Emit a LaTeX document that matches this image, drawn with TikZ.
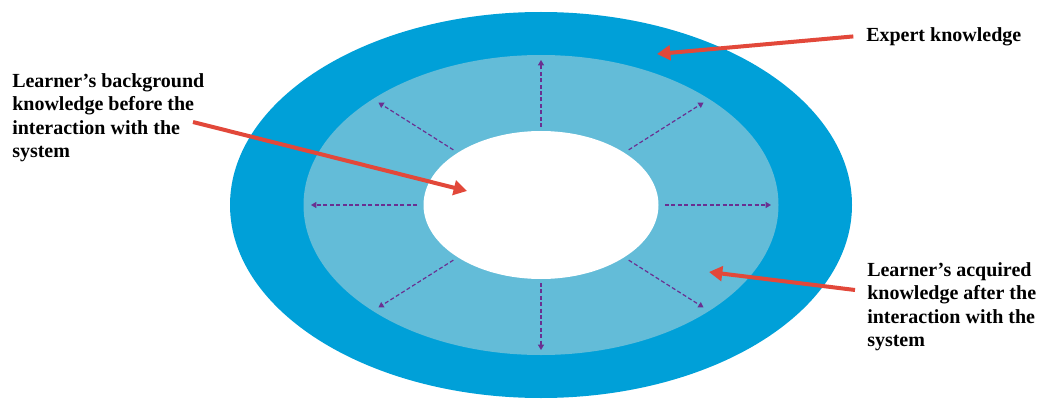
\documentclass[tikz,border=0pt]{standalone}
\usepackage{fontspec}
\setmainfont{Liberation Serif}
\usetikzlibrary{arrows.meta}

\definecolor{ringblue}{RGB}{0,160,216}
\definecolor{bandblue}{RGB}{99,188,216}
\definecolor{pointred}{RGB}{226,72,58}
\definecolor{growpurple}{RGB}{106,48,145}

\begin{document}
\begin{tikzpicture}[x=0.75pt, y=-0.75pt,
    caption/.style={inner sep=0, anchor=north west, align=left,
        font=\bfseries\fontsize{15}{17.6}\selectfont},
    pointer/.style={draw=pointred, line width=3pt, -{Triangle[length=10pt, width=11pt]}},
    growline/.style={draw=growpurple, line width=0.9pt, dash pattern=on 3pt off 1.8pt,
        -{Triangle[length=4pt, width=4.5pt]}}]

    \useasboundingbox (0,0) rectangle (1043,403);

    % rings
    \coordinate (c) at (541,205);
    \fill[ringblue] (c) ellipse [x radius=311, y radius=193];
    \fill[bandblue] (c) ellipse [x radius=237.5, y radius=150];
    \fill[white] (c) ellipse [x radius=117.5, y radius=74];

    % growth arrows
    \foreach \a in {0,45,...,315}
        \draw[growline] ([shift={(\a:124 and 78)}]c) -- ([shift={(\a:230 and 145)}]c);

    % labels
    \node[caption] (expert) at (866,27) {Expert knowledge};
    \node[caption] (before) at (12,73) {Learner’s background\\knowledge before the\\interaction with the\\system};
    \node[caption] (after) at (867,262) {Learner’s acquired\\knowledge after the\\interaction with the\\system};

    \coordinate (expertTip) at (657,54);
    \coordinate (beforeTail) at (193,122);
    \coordinate (beforeTip) at (467,191);
    \coordinate (afterTail) at (855,290);
    \coordinate (afterTip) at (709,272);

    \draw[pointer] ([xshift=-9.5pt]expert.west) -- (expertTip);
    \draw[pointer] (beforeTail) -- (beforeTip);
    \draw[pointer] (afterTail) -- (afterTip);
\end{tikzpicture}
\end{document}
